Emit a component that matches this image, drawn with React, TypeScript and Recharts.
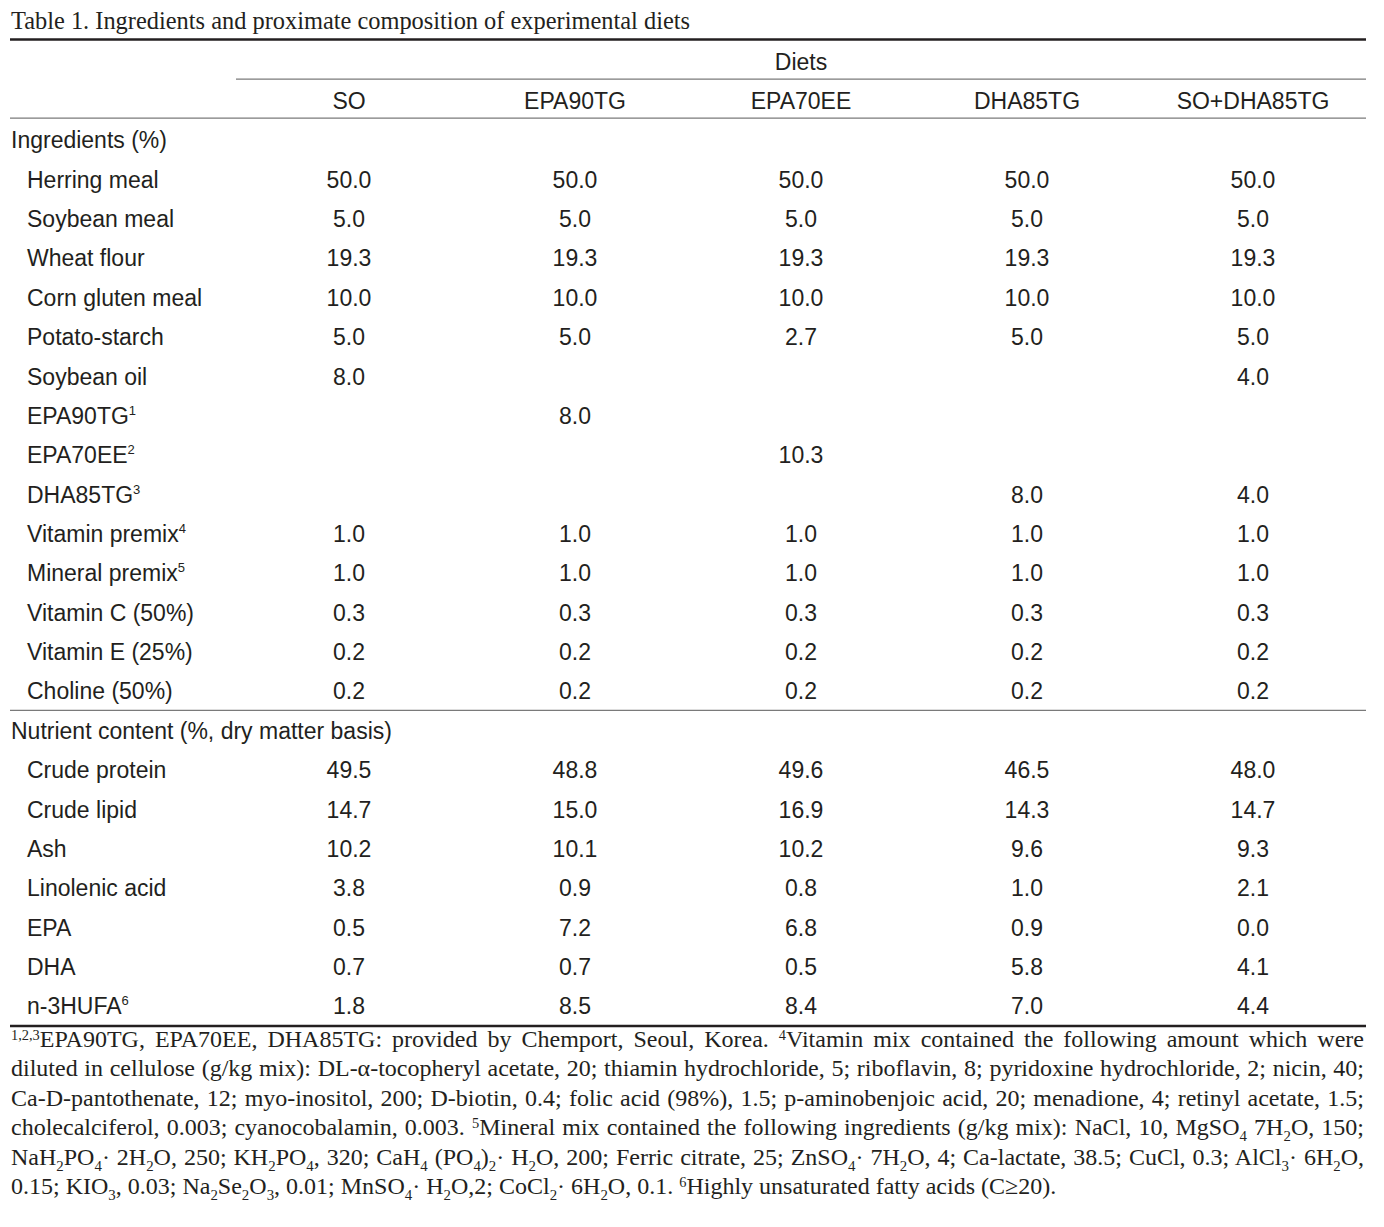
import React from "react";
import { ScatterChart, Scatter, XAxis, YAxis, ReferenceLine } from "recharts";

const INK = "#231f20";
const RULE = "#7a7a7a";
const SANS = "'Liberation Sans', Arial, sans-serif";
const SERIF = "'Liberation Serif', 'Times New Roman', serif";

const diets = ["SO", "EPA90TG", "EPA70EE", "DHA85TG", "SO+DHA85TG"];

const ingredientRows = [
  "Herring meal",
  "Soybean meal",
  "Wheat flour",
  "Corn gluten meal",
  "Potato-starch",
  "Soybean oil",
  "EPA90TG",
  "EPA70EE",
  "DHA85TG",
  "Vitamin premix",
  "Mineral premix",
  "Vitamin C (50%)",
  "Vitamin E (25%)",
  "Choline (50%)",
];
const ingredientNotes = ["", "", "", "", "", "", "1", "2", "3", "4", "5", "", "", ""];

const nutrientRows = [
  "Crude protein",
  "Crude lipid",
  "Ash",
  "Linolenic acid",
  "EPA",
  "DHA",
  "n-3HUFA",
];
const nutrientNotes = ["", "", "", "", "", "", "6"];

// ingredients (%) then nutrient content, one list per diet; null = blank cell
const soValues = [50.0, 5.0, 19.3, 10.0, 5.0, 8.0, null, null, null, 1.0, 1.0, 0.3, 0.2, 0.2, 49.5, 14.7, 10.2, 3.8, 0.5, 0.7, 1.8];
const epa90Values = [50.0, 5.0, 19.3, 10.0, 5.0, null, 8.0, null, null, 1.0, 1.0, 0.3, 0.2, 0.2, 48.8, 15.0, 10.1, 0.9, 7.2, 0.7, 8.5];
const epa70Values = [50.0, 5.0, 19.3, 10.0, 2.7, null, null, 10.3, null, 1.0, 1.0, 0.3, 0.2, 0.2, 49.6, 16.9, 10.2, 0.8, 6.8, 0.5, 8.4];
const dha85Values = [50.0, 5.0, 19.3, 10.0, 5.0, null, null, null, 8.0, 1.0, 1.0, 0.3, 0.2, 0.2, 46.5, 14.3, 9.6, 1.0, 0.9, 5.8, 7.0];
const soDhaValues = [50.0, 5.0, 19.3, 10.0, 5.0, 4.0, null, null, 4.0, 1.0, 1.0, 0.3, 0.2, 0.2, 48.0, 14.7, 9.3, 2.1, 0.0, 4.1, 4.4];

const dietValues = [soValues, epa90Values, epa70Values, dha85Values, soDhaValues];

// row index layout
const DIETS_ROW = 0;
const HEAD_ROW = 1;
const ING_TITLE_ROW = 2;
const ING_START = 3;
const NUT_TITLE_ROW = ING_START + ingredientRows.length;
const NUT_START = NUT_TITLE_ROW + 1;
const valueRowIndex = (i: number) =>
  i < ingredientRows.length ? ING_START + i : NUT_START + (i - ingredientRows.length);

type Cell = { x: number; y: number; label: string; note?: string; indent?: number; anchor?: string };

const headerCells: Cell[] = [
  { x: 3, y: DIETS_ROW, label: "Diets" },
  ...diets.map((d, i) => ({ x: i + 1, y: HEAD_ROW, label: d })),
];

const labelCells: Cell[] = [
  { x: -0.5, y: ING_TITLE_ROW, label: "Ingredients (%)", indent: 1, anchor: "start" },
  ...ingredientRows.map((r, i) => ({
    x: -0.5, y: ING_START + i, label: r, note: ingredientNotes[i], indent: 17, anchor: "start",
  })),
  { x: -0.5, y: NUT_TITLE_ROW, label: "Nutrient content (%, dry matter basis)", indent: 1, anchor: "start" },
  ...nutrientRows.map((r, i) => ({
    x: -0.5, y: NUT_START + i, label: r, note: nutrientNotes[i], indent: 17, anchor: "start",
  })),
];

const valueCells: Cell[] = dietValues.flatMap((vals, d) =>
  vals
    .map((v, i) => (v === null ? null : { x: d + 1, y: valueRowIndex(i), label: v.toFixed(1) }))
    .filter((c): c is Cell => c !== null)
);

const TextCell = (props: any) => {
  const { cx, cy, payload } = props;
  if (cx == null || cy == null) return <g />;
  return (
    <text
      x={cx + (payload.indent ?? 0)}
      y={cy + 8}
      textAnchor={payload.anchor ?? "middle"}
      fontSize={23}
      fontFamily={SANS}
      fill={INK}
    >
      {payload.label}
      {payload.note ? (
        <tspan dy={-9} fontSize={13}>
          {payload.note}
        </tspan>
      ) : null}
    </text>
  );
};

const hLine = (y: number, x0: number, heavy: boolean, key: string) => (
  <ReferenceLine
    key={key}
    segment={[{ x: x0, y }, { x: 5.5, y }]}
    stroke={heavy ? INK : RULE}
    strokeWidth={heavy ? 2.6 : 1.3}
    ifOverflow="visible"
  />
);

const Sub = ({ children }: { children: React.ReactNode }) => (
  <span style={{ fontSize: "0.62em", position: "relative", top: "0.42em", lineHeight: 0 }}>{children}</span>
);
const Sup = ({ children }: { children: React.ReactNode }) => (
  <span style={{ fontSize: "0.6em", position: "relative", top: "-0.5em", lineHeight: 0 }}>{children}</span>
);

const footLines: React.ReactNode[] = [
  <>
    <Sup>1,2,3</Sup>EPA90TG, EPA70EE, DHA85TG: provided by Chemport, Seoul, Korea. <Sup>4</Sup>Vitamin mix contained the
    following amount which were
  </>,
  <>
    diluted in cellulose (g/kg mix): DL-α-tocopheryl acetate, 20; thiamin hydrochloride, 5; riboflavin, 8; pyridoxine
    hydrochloride, 2; nicin, 40;
  </>,
  <>
    Ca-D-pantothenate, 12; myo-inositol, 200; D-biotin, 0.4; folic acid (98%), 1.5; p-aminobenjoic acid, 20; menadione, 4;
    retinyl acetate, 1.5;
  </>,
  <>
    cholecalciferol, 0.003; cyanocobalamin, 0.003. <Sup>5</Sup>Mineral mix contained the following ingredients (g/kg mix):
    NaCl, 10, MgSO<Sub>4</Sub> 7H<Sub>2</Sub>O, 150;
  </>,
  <>
    NaH<Sub>2</Sub>PO<Sub>4</Sub>· 2H<Sub>2</Sub>O, 250; KH<Sub>2</Sub>PO<Sub>4</Sub>, 320; CaH<Sub>4</Sub> (PO
    <Sub>4</Sub>)<Sub>2</Sub>· H<Sub>2</Sub>O, 200; Ferric citrate, 25; ZnSO<Sub>4</Sub>· 7H<Sub>2</Sub>O, 4; Ca-lactate,
    38.5; CuCl, 0.3; AlCl<Sub>3</Sub>· 6H<Sub>2</Sub>O,
  </>,
  <>
    0.15; KIO<Sub>3</Sub>, 0.03; Na<Sub>2</Sub>Se<Sub>2</Sub>O<Sub>3</Sub>, 0.01; MnSO<Sub>4</Sub>· H<Sub>2</Sub>O,2;
    CoCl<Sub>2</Sub>· 6H<Sub>2</Sub>O, 0.1. <Sup>6</Sup>Highly unsaturated fatty acids (C≥20).
  </>,
];

export default function App() {
  return (
    <div style={{ position: "absolute", left: 0, top: 0, width: 1384, height: 1227, background: "#fff", color: INK }}>
      <div
        style={{
          position: "absolute",
          left: 11,
          top: 8,
          fontFamily: SERIF,
          fontSize: 24.4,
          lineHeight: "25px",
          whiteSpace: "nowrap",
        }}
      >
        Table 1. Ingredients and proximate composition of experimental diets
      </div>

      <div style={{ position: "absolute", left: 0, top: 0 }}>
        <ScatterChart width={1384} height={1034} margin={{ top: 38, right: 18, bottom: 4, left: 10 }}>
          <XAxis type="number" dataKey="x" domain={[-0.5, 5.5]} allowDataOverflow hide />
          <YAxis type="number" dataKey="y" domain={[-0.6, 24.6]} allowDataOverflow reversed hide />
          {hLine(-0.56, -0.5, true, "top")}
          {hLine(0.445, 0.5, false, "diets")}
          {hLine(1.435, -0.5, false, "head")}
          {hLine(16.48, -0.5, false, "section")}
          {hLine(24.5, -0.5, true, "bottom")}
          <Scatter data={headerCells} shape={TextCell} isAnimationActive={false} />
          <Scatter data={labelCells} shape={TextCell} isAnimationActive={false} />
          <Scatter data={valueCells} shape={TextCell} isAnimationActive={false} />
        </ScatterChart>
      </div>

      <div
        style={{
          position: "absolute",
          left: 11,
          top: 1025,
          width: 1353,
          fontFamily: SERIF,
          fontSize: 24,
          lineHeight: "29.4px",
        }}
      >
        {footLines.map((line, i) => (
          <div
            key={i}
            style={{
              textAlign: "justify",
              textAlignLast: i < footLines.length - 1 ? "justify" : "left",
              whiteSpace: "nowrap",
            }}
          >
            {line}
          </div>
        ))}
      </div>
    </div>
  );
}
